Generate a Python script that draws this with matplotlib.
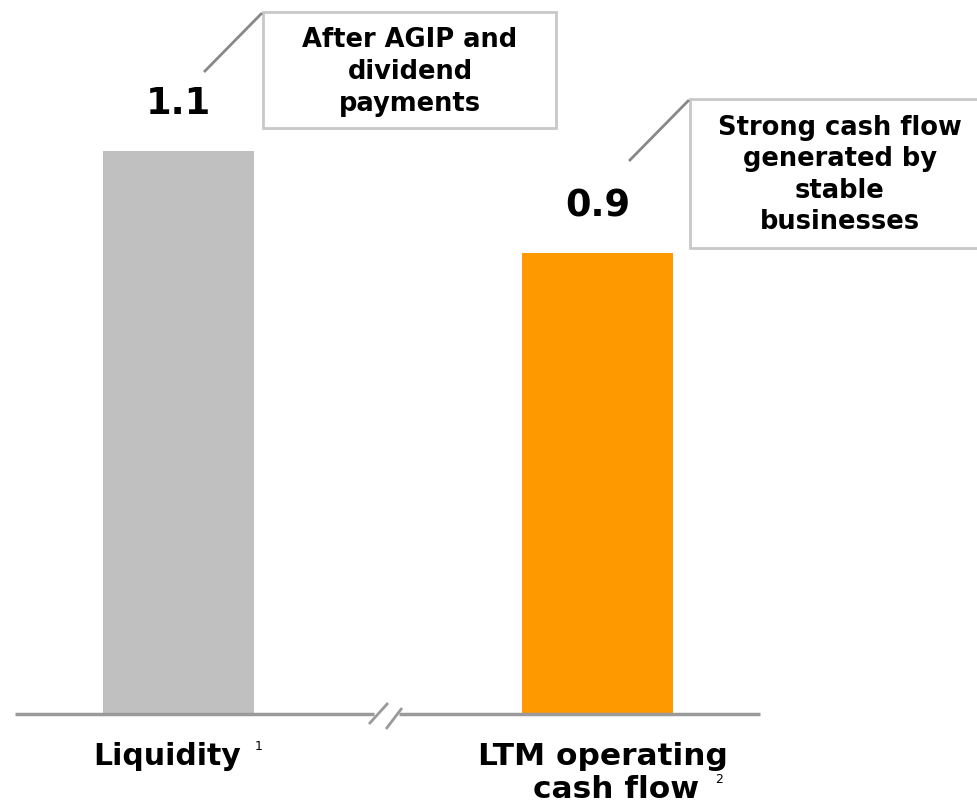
import matplotlib
matplotlib.use("Agg")
import matplotlib.pyplot as plt
from matplotlib.patches import Rectangle
from matplotlib.lines import Line2D

# data
categories = ["Liquidity", "LTM operating\ncash flow"]
footnotes = ["1", "2"]
values = [1.1, 0.9]
value_labels = ["1.1", "0.9"]
bar_colors = ["#c0c0c0", "#ff9900"]
callouts = ["After AGIP and\ndividend\npayments",
            "Strong cash flow\ngenerated by\nstable\nbusinesses"]

W, H = 977, 807
fig = plt.figure(figsize=(W / 100, H / 100), dpi=100)
ax = fig.add_axes([0, 0, 1, 1])
ax.axis("off")

# scale chosen so bars land where they sit in the slide
ax.set_xlim(-0.4255, 1.9035)
ax.set_ylim(-0.184, 1.3956)

FONT = "DejaVu Sans"
x = list(range(len(values)))
ax.bar(x, values, width=0.36, color=bar_colors, zorder=2)

for i, v in enumerate(values):
    ax.annotate(value_labels[i], xy=(i, v), xytext=(0, 29), textcoords="offset pixels",
                ha="center", va="bottom", fontsize=26.5, fontweight="bold", family=FONT)

# category labels
ax.annotate(categories[0], xy=(0, 0), xytext=(-11, -29), textcoords="offset pixels",
            ha="center", va="top", fontsize=21.5, fontweight="bold", family=FONT)
ax.annotate(footnotes[0], xy=(0, 0), xytext=(80, -27), textcoords="offset pixels",
            ha="center", va="top", fontsize=9, family=FONT)
top, bottom = categories[1].split("\n")
ax.annotate(top, xy=(1, 0), xytext=(5, -29), textcoords="offset pixels",
            ha="center", va="top", fontsize=22.5, fontweight="bold", family=FONT)
ax.annotate(bottom, xy=(1, 0), xytext=(18, -62), textcoords="offset pixels",
            ha="center", va="top", fontsize=22.5, fontweight="bold", family=FONT)
ax.annotate(footnotes[1], xy=(1, 0), xytext=(121, -60), textcoords="offset pixels",
            ha="center", va="top", fontsize=9, family=FONT)


def px(xp, yp):
    return xp / W, 1 - yp / H


def fline(x0, y0, x1, y1, color, lw):
    (a, b), (c, d) = px(x0, y0), px(x1, y1)
    fig.add_artist(Line2D([a, c], [b, d], color=color, lw=lw,
                          transform=fig.transFigure, solid_capstyle="butt"))


# baseline with axis break
line_c = "#9a9a9a"
fline(15, 714, 374, 714, line_c, 2.5)
fline(399, 714, 760, 714, line_c, 2.5)
fline(369, 724, 388, 703, line_c, 2)
fline(386, 729, 402, 708, line_c, 2)

# callout boxes
boxes = [(263, 12, 293, 116), (690, 99, 300, 149)]
text_centers = [(410, 72), (840, 175)]
leaders = [(204, 72, 262, 13), (629, 161, 689, 100)]
for (bx, by, bw, bh), (tx, ty), (l0, l1, l2, l3), txt in zip(boxes, text_centers, leaders, callouts):
    x0, y0 = px(bx, by + bh)
    fig.add_artist(Rectangle((x0, y0), bw / W, bh / H, transform=fig.transFigure,
                             facecolor="white", edgecolor="#c8c8c8", lw=2))
    fline(l0, l1, l2, l3, "#888888", 2)
    a, b = px(tx, ty)
    fig.text(a, b, txt, ha="center", va="center", multialignment="center",
             fontsize=18.5, fontweight="bold", family=FONT, linespacing=1.28)

fig.savefig("out.png", dpi=100)
